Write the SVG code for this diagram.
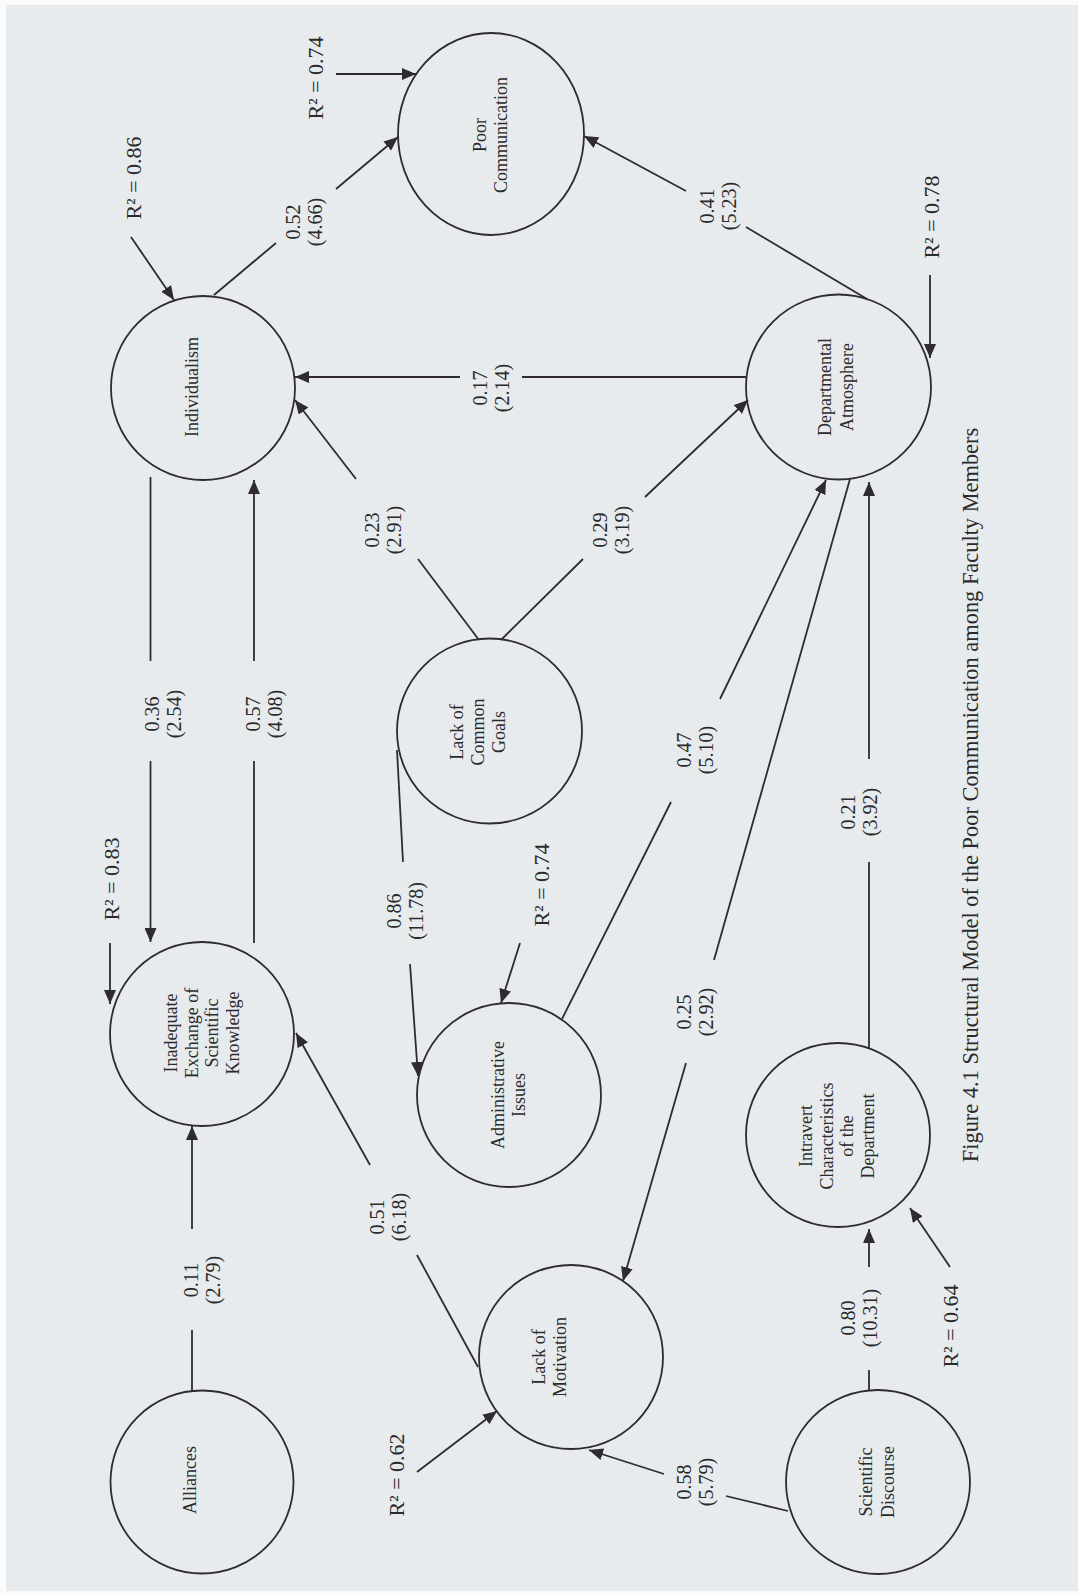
<svg xmlns="http://www.w3.org/2000/svg" width="1078" height="1595" viewBox="0 0 1078 1595">
<defs>
<marker id="ah" viewBox="0 0 14 12" refX="14" refY="6" markerWidth="14" markerHeight="12" markerUnits="userSpaceOnUse" orient="auto">
<path d="M0,0 L14,6 L0,12 z" fill="#2f2b2e"/>
</marker>
<style>
.n{fill:none;stroke:#2f2b2e;stroke-width:1.8}
.c line{stroke:#2f2b2e;stroke-width:1.8;fill:none}
.a{marker-end:url(#ah)}
text{font-family:"Liberation Serif","Times New Roman",serif;fill:#2a2a2a;text-anchor:middle}
.nt{font-size:18px}
.el{font-size:20px}
.r2{font-size:22px}
.cap{font-size:22.4px}
</style>
</defs>
<rect x="0" y="0" width="1078" height="1595" fill="#fbfbfb"/>
<rect x="6" y="5" width="1072" height="1586" fill="#e7ebee"/>

<g id="connectors" class="c">
<!-- Individualism -> Poor Communication -->
<line x1="214" y1="295" x2="276" y2="243"/>
<line class="a" x1="336" y1="189" x2="398" y2="137"/>
<!-- Departmental Atmosphere -> Poor Communication -->
<line x1="867" y1="299" x2="746" y2="227"/>
<line class="a" x1="686" y1="191" x2="584" y2="136"/>
<!-- DA -> Individualism -->
<line x1="746" y1="377" x2="522" y2="377"/>
<line class="a" x1="460" y1="377" x2="295" y2="377"/>
<!-- LCG -> Individualism -->
<line x1="479" y1="640" x2="418" y2="559"/>
<line class="a" x1="356" y1="479" x2="295" y2="400"/>
<!-- LCG -> DA -->
<line x1="501" y1="640" x2="583" y2="559"/>
<line class="a" x1="645" y1="497" x2="748" y2="400"/>
<!-- Individualism -> Inadequate -->
<line x1="150.5" y1="477" x2="150.5" y2="661"/>
<line class="a" x1="150.5" y1="761" x2="150.5" y2="942"/>
<!-- Inadequate -> Individualism -->
<line x1="254" y1="943" x2="254" y2="761"/>
<line class="a" x1="254" y1="661" x2="254" y2="480"/>
<!-- LCG -> Administrative -->
<line x1="397" y1="750" x2="403" y2="862"/>
<line class="a" x1="410" y1="964" x2="418" y2="1076"/>
<!-- Administrative -> DA -->
<line x1="562" y1="1019" x2="671" y2="802"/>
<line class="a" x1="720" y1="699" x2="826" y2="480"/>
<!-- DA -> Lack of Motivation -->
<line x1="850" y1="479" x2="714" y2="960"/>
<line class="a" x1="686" y1="1063" x2="623" y2="1281"/>
<!-- Intravert -> DA -->
<line x1="869" y1="1048" x2="869" y2="862"/>
<line class="a" x1="869" y1="759" x2="869" y2="482"/>
<!-- Scientific Discourse -> Intravert -->
<line x1="869" y1="1391" x2="869" y2="1370"/>
<line class="a" x1="869" y1="1267" x2="869" y2="1229"/>
<!-- Scientific Discourse -> Lack of Motivation -->
<line x1="788" y1="1511" x2="726" y2="1496"/>
<line class="a" x1="664" y1="1474" x2="589" y2="1450"/>
<!-- Lack of Motivation -> Inadequate -->
<line x1="478" y1="1367" x2="417" y2="1255"/>
<line class="a" x1="370" y1="1165" x2="296" y2="1033"/>
<!-- Alliances -> Inadequate -->
<line x1="192" y1="1391" x2="192" y2="1330"/>
<line class="a" x1="192" y1="1229" x2="192" y2="1126"/>
<!-- R2 arrows -->
<line class="a" x1="131" y1="237" x2="174" y2="300"/>
<line class="a" x1="336" y1="74" x2="416" y2="74"/>
<line class="a" x1="930" y1="275" x2="930" y2="358"/>
<line class="a" x1="110" y1="943" x2="110" y2="1004"/>
<line class="a" x1="520" y1="943" x2="501" y2="1003"/>
<line class="a" x1="417" y1="1472" x2="497" y2="1411"/>
<line class="a" x1="950" y1="1267" x2="910" y2="1208"/>
</g>

<g id="edge-labels">
<text class="el" transform="translate(300,222) rotate(-90)"><tspan x="0">0.52</tspan><tspan x="0" dy="22">(4.66)</tspan></text>
<text class="el" transform="translate(714,206) rotate(-90)"><tspan x="0">0.41</tspan><tspan x="0" dy="22">(5.23)</tspan></text>
<text class="el" transform="translate(487,388) rotate(-90)"><tspan x="0">0.17</tspan><tspan x="0" dy="22">(2.14)</tspan></text>
<text class="el" transform="translate(379,530) rotate(-90)"><tspan x="0">0.23</tspan><tspan x="0" dy="22">(2.91)</tspan></text>
<text class="el" transform="translate(607,530) rotate(-90)"><tspan x="0">0.29</tspan><tspan x="0" dy="22">(3.19)</tspan></text>
<text class="el" transform="translate(159,714) rotate(-90)"><tspan x="0">0.36</tspan><tspan x="0" dy="22">(2.54)</tspan></text>
<text class="el" transform="translate(260,714) rotate(-90)"><tspan x="0">0.57</tspan><tspan x="0" dy="22">(4.08)</tspan></text>
<text class="el" transform="translate(401,911) rotate(-90)"><tspan x="0">0.86</tspan><tspan x="0" dy="22">(11.78)</tspan></text>
<text class="el" transform="translate(691,750) rotate(-90)"><tspan x="0">0.47</tspan><tspan x="0" dy="22">(5.10)</tspan></text>
<text class="el" transform="translate(691,1012) rotate(-90)"><tspan x="0">0.25</tspan><tspan x="0" dy="22">(2.92)</tspan></text>
<text class="el" transform="translate(855,812) rotate(-90)"><tspan x="0">0.21</tspan><tspan x="0" dy="22">(3.92)</tspan></text>
<text class="el" transform="translate(198,1280) rotate(-90)"><tspan x="0">0.11</tspan><tspan x="0" dy="22">(2.79)</tspan></text>
<text class="el" transform="translate(384,1217) rotate(-90)"><tspan x="0">0.51</tspan><tspan x="0" dy="22">(6.18)</tspan></text>
<text class="el" transform="translate(691,1482) rotate(-90)"><tspan x="0">0.58</tspan><tspan x="0" dy="22">(5.79)</tspan></text>
<text class="el" transform="translate(855,1318) rotate(-90)"><tspan x="0">0.80</tspan><tspan x="0" dy="22">(10.31)</tspan></text>
</g>

<g id="r2-labels">
<text class="r2" transform="translate(141,178) rotate(-90)">R² = 0.86</text>
<text class="r2" transform="translate(323,78) rotate(-90)">R² = 0.74</text>
<text class="r2" transform="translate(939,217) rotate(-90)">R² = 0.78</text>
<text class="r2" transform="translate(119,879) rotate(-90)">R² = 0.83</text>
<text class="r2" transform="translate(549,885) rotate(-90)">R² = 0.74</text>
<text class="r2" transform="translate(404,1475) rotate(-90)">R² = 0.62</text>
<text class="r2" transform="translate(958,1326) rotate(-90)">R² = 0.64</text>
</g>

<g id="individualism">
<circle class="n" cx="203" cy="388" r="92"/>
<text class="nt" transform="translate(198,387) rotate(-90)">Individualism</text>
</g>
<g id="poor-communication">
<ellipse class="n" cx="491" cy="134" rx="93" ry="101"/>
<text class="nt" transform="translate(486,135) rotate(-90)"><tspan x="0">Poor</tspan><tspan x="0" dy="21">Communication</tspan></text>
</g>
<g id="departmental-atmosphere">
<circle class="n" cx="838.5" cy="387" r="92.5"/>
<text class="nt" transform="translate(831,387) rotate(-90)"><tspan x="0">Departmental</tspan><tspan x="0" dy="22">Atmosphere</tspan></text>
</g>
<g id="inadequate-exchange">
<circle class="n" cx="202" cy="1034" r="92"/>
<text class="nt" transform="translate(177,1033) rotate(-90)"><tspan x="0">Inadequate</tspan><tspan x="0" dy="20.7">Exchange of</tspan><tspan x="0" dy="20.7">Scientific</tspan><tspan x="0" dy="20.7">Knowledge</tspan></text>
</g>
<g id="lack-of-common-goals">
<circle class="n" cx="489.5" cy="731" r="92.5"/>
<text class="nt" transform="translate(463,732) rotate(-90)"><tspan x="0">Lack of</tspan><tspan x="0" dy="21">Common</tspan><tspan x="0" dy="21">Goals</tspan></text>
</g>
<g id="administrative-issues">
<circle class="n" cx="509" cy="1095" r="92"/>
<text class="nt" transform="translate(504,1095) rotate(-90)"><tspan x="0">Administrative</tspan><tspan x="0" dy="21">Issues</tspan></text>
</g>
<g id="intravert-characteristics">
<circle class="n" cx="838" cy="1135" r="92"/>
<text class="nt" transform="translate(812,1136) rotate(-90)"><tspan x="0">Intravert</tspan><tspan x="0" dy="20.7">Characteristics</tspan><tspan x="0" dy="20.7">of the</tspan><tspan x="0" dy="20.7">Department</tspan></text>
</g>
<g id="alliances">
<circle class="n" cx="202" cy="1482" r="91.5"/>
<text class="nt" transform="translate(196,1480) rotate(-90)">Alliances</text>
</g>
<g id="lack-of-motivation">
<circle class="n" cx="571" cy="1357" r="92"/>
<text class="nt" transform="translate(545,1357) rotate(-90)"><tspan x="0">Lack of</tspan><tspan x="0" dy="21">Motivation</tspan></text>
</g>
<g id="scientific-discourse">
<circle class="n" cx="878" cy="1482" r="92"/>
<text class="nt" transform="translate(872,1482) rotate(-90)"><tspan x="0">Scientific</tspan><tspan x="0" dy="22">Discourse</tspan></text>
</g>

<text class="cap" transform="translate(978,795) rotate(-90)">Figure 4.1 Structural Model of the Poor Communication among Faculty Members</text>
</svg>
